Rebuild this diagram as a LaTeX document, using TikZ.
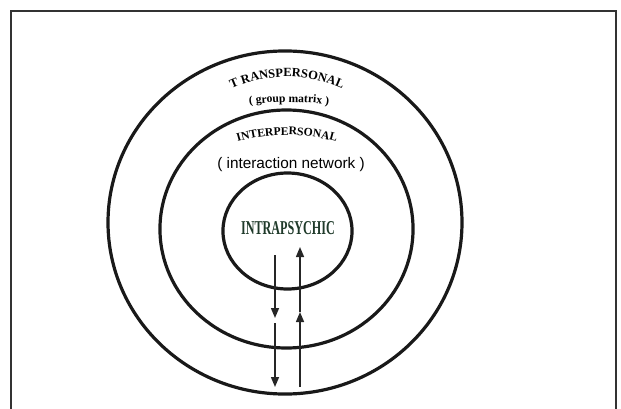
\documentclass[tikz,border=0pt]{standalone}
\usepackage{fontspec}
\setmainfont{Liberation Serif}
\newfontfamily\arialfont{Liberation Sans}
\usepackage{xcolor}
\usetikzlibrary{shapes.geometric, arrows.meta, decorations.text}
\definecolor{intragreen}{HTML}{1F3A2A}
\newcommand\ringfont{\bfseries\fontsize{9.4pt}{11pt}\selectfont}
\newcommand\smallring{\bfseries\fontsize{8.7pt}{11pt}\selectfont}

\begin{document}
\begin{tikzpicture}[x=0.75pt, y=0.75pt,
  ring/.style={ellipse, draw=black!90, line width=2.4pt, inner sep=0pt},
  flow/.style={-{Triangle[length=7.5pt, width=6pt]}, line width=1.1pt, draw=black!85},
  arctext/.style={decorate, decoration={text along path, text align=center, text={#1}}},
  every node/.style={inner sep=0pt}
]
  \useasboundingbox (0,0) rectangle (621,408);
  % open frame, bottom edge cut off
  \draw[line width=1.5pt, draw=black!80] (11,-10) -- (11,397) -- (616,397) -- (616,-10);

  \node[ring, minimum width=265.5pt, minimum height=257.3pt] (outer)  at (285,185.5) {};
  \node[ring, minimum width=189.8pt, minimum height=178.5pt] (middle) at (286.5,179) {};
  \node[ring, minimum width=96.8pt,  minimum height=87pt]    (inner)  at (287.5,177) {};

  \node[font=\bfseries\fontsize{14.7pt}{16pt}\selectfont, text=intragreen, xscale=0.62]
       (intra) at (288,179.5) {INTRAPSYCHIC};
  \node[font=\arialfont\fontsize{11.5pt}{13pt}\selectfont, anchor=base]
       (network) at (291,240) {( interaction network )};

  % curved labels
  \path[arctext={|\ringfont|T RANSPERSONAL}] (184.31,283.16) arc[start angle=140, end angle=40, radius=134];
  \path[arctext={|\smallring|( group matrix )}] (236.9,301.4) arc[start angle=100, end angle=80, radius=300];
  \path[arctext={|\smallring|INTERPERSONAL}] (226.46,262.33) arc[start angle=110, end angle=70, radius=177];

  % up and down arrows
  \coordinate (d1) at (275,153);
  \coordinate (d2) at (275,90);
  \coordinate (d3) at (275,85);
  \coordinate (d4) at (275,21);
  \coordinate (u1) at (300,21);
  \coordinate (u2) at (300,96);
  \coordinate (u3) at (300,161);

  \draw[flow] (d1) -- (d2);
  \draw[flow] (d3) -- (d4);
  \draw[flow] (u1) -- (u2);
  \draw[flow] (u2) -- (u3);
\end{tikzpicture}
\end{document}
